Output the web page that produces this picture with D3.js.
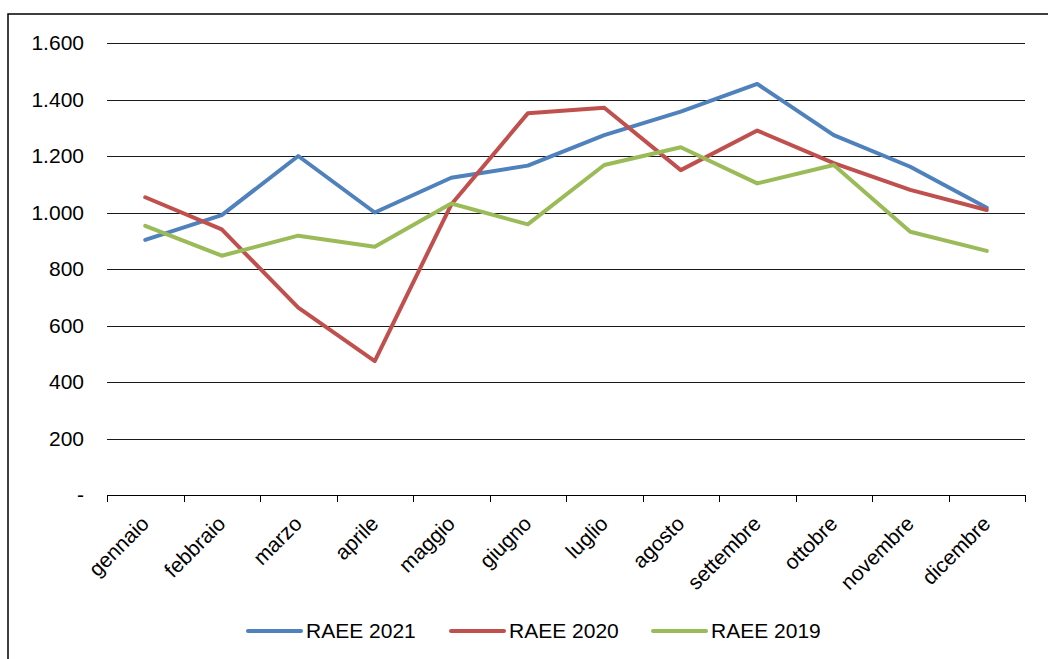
<!DOCTYPE html>
<html><head><meta charset="utf-8">
<script src="https://cdn.jsdelivr.net/npm/d3@7"></script>
<style>body{margin:0;background:#fff}svg{display:block}text{font-family:"Liberation Sans",Arial,sans-serif;fill:#000}</style>
</head><body>
<svg id="c" width="1048" height="659"></svg>
<script>
const months = ["gennaio","febbraio","marzo","aprile","maggio","giugno","luglio","agosto","settembre","ottobre","novembre","dicembre"];
const raee2021 = [903, 991, 1200, 1000, 1123, 1166, 1274, 1357, 1455, 1274, 1162, 1017];
const raee2020 = [1054, 940, 663, 474, 1028, 1351, 1371, 1150, 1290, 1175, 1080, 1009];
const raee2019 = [953, 847, 918, 879, 1032, 958, 1168, 1231, 1103, 1168, 932, 864];
const yTicks = [0, 200, 400, 600, 800, 1000, 1200, 1400, 1600];
const seriesNames = ["RAEE 2021", "RAEE 2020", "RAEE 2019"];
const seriesColors = ["#4F81BD", "#C0504D", "#9BBB59"];

const series = [raee2021, raee2020, raee2019].map((v, i) => ({name: seriesNames[i], color: seriesColors[i], values: v}));

const svg = d3.select("#c");
const pLeft = 107, pRight = 1025, pTop = 43, pBottom = 495;

svg.append("rect").attr("x", 8).attr("y", 14).attr("width", 1100).attr("height", 700)
  .attr("fill", "none").attr("stroke", "#000").attr("stroke-width", 1.5);

const x = d3.scaleBand().domain(months).range([pLeft, pRight]);
const y = d3.scaleLinear().domain([0, 1600]).range([pBottom, pTop]);

const fmt = v => v === 0 ? "-" : d3.format(",")(v).replace(/,/g, ".");

// gridlines
svg.append("g").selectAll("line").data(yTicks.filter(d => d > 0)).join("line")
  .attr("x1", pLeft).attr("x2", pRight).attr("y1", d => Math.round(y(d)) + 0.5).attr("y2", d => Math.round(y(d)) + 0.5)
  .attr("stroke", "#1a1a1a").attr("stroke-width", 1);

// y labels
svg.append("g").selectAll("text").data(yTicks).join("text")
  .attr("x", 84).attr("y", d => y(d)).attr("dy", "0.35em").attr("text-anchor", "end")
  .attr("font-size", 21).text(fmt);

// x axis
const xAxis = svg.append("g");
xAxis.append("line").attr("x1", pLeft).attr("x2", pRight).attr("y1", pBottom + 0.5).attr("y2", pBottom + 0.5)
  .attr("stroke", "#000").attr("stroke-width", 1);
const boundaries = months.map(m => x(m)).concat([x.range()[1]]);
xAxis.selectAll("line.tick").data(boundaries).join("line").attr("class", "tick")
  .attr("x1", d => Math.round(d) + 0.5).attr("x2", d => Math.round(d) + 0.5)
  .attr("y1", pBottom).attr("y2", pBottom + 7).attr("stroke", "#000").attr("stroke-width", 1);
xAxis.selectAll("text").data(months).join("text")
  .attr("transform", d => `translate(${x(d) + x.bandwidth() / 2 + 5},${pBottom + 30}) rotate(-45)`)
  .attr("text-anchor", "end").attr("font-size", 21).text(d => d);

// lines
const line = d3.line().x((d, i) => x(months[i]) + x.bandwidth() / 2).y(d => y(d));
svg.append("g").selectAll("path").data(series).join("path")
  .attr("d", d => line(d.values)).attr("fill", "none").attr("stroke", d => d.color)
  .attr("stroke-width", 4).attr("stroke-linejoin", "round").attr("stroke-linecap", "round");

// legend
const legendX = [248, 451, 653];
const lg = svg.append("g").selectAll("g").data(series).join("g")
  .attr("transform", (d, i) => `translate(${legendX[i]},631)`);
lg.append("line").attr("x1", 0).attr("x2", 53).attr("y1", 0).attr("y2", 0)
  .attr("stroke", d => d.color).attr("stroke-width", 4).attr("stroke-linecap", "round");
lg.append("text").attr("x", 58).attr("y", 6.5).attr("font-size", 21).text(d => d.name);
</script>
</body></html>
